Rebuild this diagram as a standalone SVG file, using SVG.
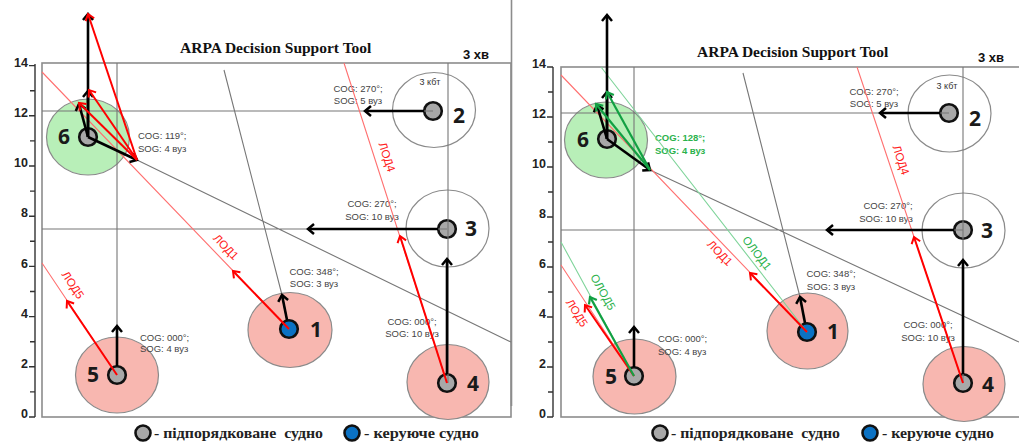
<svg xmlns="http://www.w3.org/2000/svg" width="1019" height="442" viewBox="0 0 1019 442">
  <defs>
    <style>
      .frame{fill:none;stroke:#8c8c8c;stroke-width:1.6}
      .axis{fill:none;stroke:#333;stroke-width:1.4}
      .grid{fill:none;stroke:#777;stroke-width:1.1}
      .lod{fill:none;stroke:#ff7070;stroke-width:1.1}
      .olod{fill:none;stroke:#7fd49a;stroke-width:1.1}
      .vb{fill:none;stroke:#000;stroke-width:2.6;marker-end:url(#ab)}
      .vr{fill:none;stroke:#ff0000;stroke-width:2;marker-end:url(#ar)}
      .vg{fill:none;stroke:#12a043;stroke-width:2.2;marker-end:url(#ag)}
      .zp{fill:#f8b7b0;stroke:#8a8a8a;stroke-width:1.2}
      .zg{fill:#b8efb8;stroke:#8a8a8a;stroke-width:1.2}
      .zn{fill:none;stroke:#8a8a8a;stroke-width:1.2}
      .ship{fill:#a8a8a8;stroke:#111;stroke-width:2.6}
      .own{fill:#0b72c4;stroke:#111;stroke-width:2.6}
      .num{font-family:"Open Sans","Liberation Sans",sans-serif;font-weight:bold;font-size:21px;fill:#1a1a1a}
      .cog{font-family:"Liberation Sans",Arial,sans-serif;font-size:9.5px;fill:#444}
      .cogg{font-family:"Liberation Sans",Arial,sans-serif;font-size:9.5px;font-weight:bold;fill:#2bb24c}
      .kbt{font-family:"Liberation Sans",Arial,sans-serif;font-size:9px;fill:#333}
      .lbl{font-family:"Liberation Sans",Arial,sans-serif;font-size:11.5px;fill:#ff2020}
      .lblg{font-family:"Liberation Sans",Arial,sans-serif;font-size:11.5px;fill:#2bb24c}
      .tick{font-family:"Liberation Sans",Arial,sans-serif;font-weight:bold;font-size:12.5px;fill:#222}
      .title{font-family:"Liberation Serif","Times New Roman",serif;font-weight:bold;font-size:15.5px;fill:#111}
      .min{font-family:"Liberation Sans",Arial,sans-serif;font-weight:bold;font-size:13px;fill:#111}
      .leg{font-family:"Liberation Serif","Times New Roman",serif;font-weight:bold;font-size:15.5px;fill:#222}
    </style>
    <marker id="ab" viewBox="-8 -7 10 14" refX="0" refY="0" markerWidth="10" markerHeight="14" markerUnits="userSpaceOnUse" orient="auto" overflow="visible">
      <path d="M-6,-5 L0,0 L-6,5" fill="none" stroke="#000" stroke-width="2.5"/>
    </marker>
    <marker id="ar" viewBox="-8 -7 10 14" refX="0" refY="0" markerWidth="10" markerHeight="14" markerUnits="userSpaceOnUse" orient="auto" overflow="visible">
      <path d="M-6,-4.5 L0,0 L-6,4.5" fill="none" stroke="#ff0000" stroke-width="2"/>
    </marker>
    <marker id="ag" viewBox="-8 -7 10 14" refX="0" refY="0" markerWidth="10" markerHeight="14" markerUnits="userSpaceOnUse" orient="auto" overflow="visible">
      <path d="M-6,-4.5 L0,0 L-6,4.5" fill="none" stroke="#12a043" stroke-width="2.2"/>
    </marker>
  </defs>
  <rect width="1019" height="442" fill="#fff"/>

  <!-- ===== Panel A: without reduction ===== -->
  <g id="panel-a-frame">
    <text class="title" x="180" y="53">ARPA Decision Support Tool</text>
    <text class="min" x="463" y="59">3 хв</text>
    <rect class="frame" x="42" y="63" width="469" height="354"/>
    <line class="frame" x1="511.5" y1="0" x2="511.5" y2="406"/>
    <path class="axis" d="M35,64V417 M29,417H35 M30,391.9H35 M29,366.8H35 M30,341.7H35 M29,316.6H35 M30,291.5H35 M29,266.4H35 M30,241.3H35 M29,216.2H35 M30,191.1H35 M29,166H35 M30,140.9H35 M29,115.8H35 M30,90.7H35 M29,65.6H35"/>
    <g class="tick" text-anchor="end">
      <text x="28" y="418">0</text><text x="28" y="368">2</text><text x="28" y="318">4</text>
      <text x="28" y="268">6</text><text x="28" y="217">8</text><text x="28" y="167">10</text>
      <text x="28" y="117">12</text><text x="28" y="67">14</text>
    </g>
  </g>

  <g id="a-ship6">
    <ellipse class="zg" cx="88" cy="137" rx="41.5" ry="38"/>
    <circle class="ship" cx="88" cy="137" r="8.8"/>
    <text class="num" x="64" y="144" text-anchor="middle">6</text>
    <text class="cog" x="138" y="139">COG: 119°;</text>
    <text class="cog" x="138" y="152">SOG: 4 вуз</text>
  </g>
  <g id="a-ship2">
    <ellipse class="zn" cx="434" cy="110" rx="41.5" ry="37.5"/>
    <circle class="ship" cx="433" cy="111" r="8.8"/>
    <text class="num" x="453" y="123">2</text>
    <text class="kbt" x="430" y="85" text-anchor="middle">3 кбт</text>
    <text class="cog" x="358" y="92" text-anchor="middle">COG: 270°;</text>
    <text class="cog" x="358" y="104" text-anchor="middle">SOG: 5 вуз</text>
  </g>
  <g id="a-ship3">
    <ellipse class="zn" cx="447.5" cy="228.5" rx="41.5" ry="38.5"/>
    <circle class="ship" cx="447" cy="229" r="8.8"/>
    <text class="num" x="465" y="236">3</text>
    <text class="cog" x="372" y="207" text-anchor="middle">COG: 270°;</text>
    <text class="cog" x="372" y="220" text-anchor="middle">SOG: 10 вуз</text>
  </g>
  <g id="a-ship4">
    <ellipse class="zp" cx="448" cy="382" rx="41" ry="37.5"/>
    <circle class="ship" cx="447" cy="383" r="8.8"/>
    <text class="num" x="467" y="391">4</text>
    <text class="cog" x="412" y="325" text-anchor="middle">COG: 000°;</text>
    <text class="cog" x="412" y="337" text-anchor="middle">SOG: 10 вуз</text>
  </g>
  <g id="a-ship1">
    <ellipse class="zp" cx="290" cy="330" rx="42" ry="37.5"/>
    <circle class="own" cx="289" cy="329" r="8.8"/>
    <text class="num" x="310" y="337">1</text>
    <text class="cog" x="314" y="275" text-anchor="middle">COG: 348°;</text>
    <text class="cog" x="314" y="287" text-anchor="middle">SOG: 3 вуз</text>
  </g>
  <g id="a-ship5">
    <ellipse class="zp" cx="117" cy="375" rx="41.5" ry="38"/>
    <circle class="ship" cx="117" cy="375" r="8.8"/>
    <text class="num" x="87" y="382">5</text>
    <text class="cog" x="140" y="341">COG: 000°;</text>
    <text class="cog" x="140" y="352">SOG: 4 вуз</text>
  </g>

  <g id="a-links">
    <path class="grid" d="M117,63V325 M42,111H433 M42,229H447 M448,63V383 M224,70L282,295 M137,160L511,342"/>
    <path class="lod" d="M42,72L289,329 M42,263L117,375 M344,63L447,383"/>
    <path class="vb" d="M88,137V14"/>
    <path class="vb" d="M88,137V91"/>
    <path class="vb" d="M88,137L79,104"/>
    <path class="vb" d="M88,137L137,160"/>
    <path class="vb" d="M424,111H365"/>
    <path class="vb" d="M438,229H308"/>
    <path class="vb" d="M447,374V259"/>
    <path class="vb" d="M287,320L282,295"/>
    <path class="vb" d="M117,366V326"/>
    <path class="vr" d="M289,329L233,271"/>
    <path class="vr" d="M117,375L67,301"/>
    <path class="vr" d="M447,383L400,236"/>
    <path class="vr" d="M137,160L88,14"/>
    <path class="vr" d="M137,160L89,90"/>
    <path class="vr" d="M137,160L79,103"/>
    <text class="lbl" transform="translate(226,247) rotate(46)" text-anchor="middle" y="4">ЛОД1</text>
    <text class="lbl" transform="translate(73,285) rotate(56)" text-anchor="middle" y="4">ЛОД5</text>
    <text class="lbl" transform="translate(387,157) rotate(72)" text-anchor="middle" y="4">ЛОД4</text>
  </g>

  <g id="a-legend">
    <circle class="ship" cx="143" cy="433" r="7.5"/>
    <text class="leg" x="154" y="438" textLength="169" lengthAdjust="spacingAndGlyphs" xml:space="preserve">- підпорядковане  судно</text>
    <circle class="own" cx="352" cy="433" r="7.5"/>
    <text class="leg" x="364" y="438" textLength="115" lengthAdjust="spacingAndGlyphs">- керуюче судно</text>
  </g>

  <!-- ===== Panel B: with reduction ===== -->
  <g id="panel-b-frame">
    <text class="title" x="697" y="57">ARPA Decision Support Tool</text>
    <text class="min" x="978" y="62">3 хв</text>
    <rect class="frame" x="561" y="67" width="470" height="350"/>
    <path class="axis" d="M553,67V417 M547,417H553 M548,392H553 M547,367H553 M548,342H553 M547,317H553 M548,292H553 M547,267H553 M548,242H553 M547,217H553 M548,192H553 M547,167H553 M548,142H553 M547,117H553 M548,92H553 M547,67H553"/>
    <g class="tick" text-anchor="end">
      <text x="546" y="418">0</text><text x="546" y="368">2</text><text x="546" y="318">4</text>
      <text x="546" y="268">6</text><text x="546" y="218">8</text><text x="546" y="168">10</text>
      <text x="546" y="118">12</text><text x="546" y="68">14</text>
    </g>
  </g>

  <g id="b-ship6">
    <ellipse class="zg" cx="606" cy="140" rx="41.5" ry="38"/>
    <circle class="ship" cx="607" cy="139" r="8.8"/>
    <text class="num" x="583" y="147" text-anchor="middle">6</text>
    <text class="cogg" x="655" y="141">COG: 128°;</text>
    <text class="cogg" x="655" y="154">SOG: 4 вуз</text>
  </g>
  <g id="b-ship2">
    <ellipse class="zn" cx="949.5" cy="113.5" rx="41.5" ry="38.5"/>
    <circle class="ship" cx="949" cy="113" r="8.8"/>
    <text class="num" x="969" y="126">2</text>
    <text class="kbt" x="947" y="89" text-anchor="middle">3 кбт</text>
    <text class="cog" x="874" y="95" text-anchor="middle">COG: 270°;</text>
    <text class="cog" x="874" y="107" text-anchor="middle">SOG: 5 вуз</text>
  </g>
  <g id="b-ship3">
    <ellipse class="zn" cx="963.5" cy="230.5" rx="41.5" ry="37.5"/>
    <circle class="ship" cx="963" cy="230" r="8.8"/>
    <text class="num" x="981" y="238">3</text>
    <text class="cog" x="888" y="209" text-anchor="middle">COG: 270°;</text>
    <text class="cog" x="886" y="222" text-anchor="middle">SOG: 10 вуз</text>
  </g>
  <g id="b-ship4">
    <ellipse class="zp" cx="964" cy="384" rx="41" ry="37.5"/>
    <circle class="ship" cx="963" cy="383" r="8.8"/>
    <text class="num" x="982" y="392">4</text>
    <text class="cog" x="928" y="328" text-anchor="middle">COG: 000°;</text>
    <text class="cog" x="928" y="341" text-anchor="middle">SOG: 10 вуз</text>
  </g>
  <g id="b-ship1">
    <ellipse class="zp" cx="807.5" cy="331" rx="40.5" ry="38"/>
    <circle class="own" cx="807" cy="332" r="8.8"/>
    <text class="num" x="827" y="339">1</text>
    <text class="cog" x="831" y="277" text-anchor="middle">COG: 348°;</text>
    <text class="cog" x="831" y="290" text-anchor="middle">SOG: 3 вуз</text>
  </g>
  <g id="b-ship5">
    <ellipse class="zp" cx="634.5" cy="376.5" rx="41.5" ry="37.5"/>
    <circle class="ship" cx="634" cy="376" r="8.8"/>
    <text class="num" x="605" y="384">5</text>
    <text class="cog" x="658" y="342">COG: 000°;</text>
    <text class="cog" x="658" y="355">SOG: 4 вуз</text>
  </g>

  <g id="b-links">
    <path class="grid" d="M634,67V327 M561,113H949 M561,230H963 M963,67V383 M743,73L800,297 M650,170L1019,342"/>
    <path class="lod" d="M561,75L807,332 M561,265L634,376 M857,67L963,383"/>
    <path class="olod" d="M601,67L807,332 M561,242L634,376"/>
    <path class="vb" d="M607,139V15"/>
    <path class="vb" d="M607,139V92"/>
    <path class="vb" d="M607,139L597,105"/>
    <path class="vb" d="M607,139L650,170"/>
    <path class="vb" d="M940,113H880"/>
    <path class="vb" d="M954,230H827"/>
    <path class="vb" d="M963,374V260"/>
    <path class="vb" d="M805,323L800,297"/>
    <path class="vb" d="M634,367V327"/>
    <path class="vr" d="M807,332L750,273"/>
    <path class="vr" d="M634,376L585,305"/>
    <path class="vr" d="M963,383L914,237"/>
    <path class="vg" d="M634,376L590,297"/>
    <path class="vg" d="M650,170L607,92"/>
    <path class="vg" d="M650,170L596,104"/>
    <text class="lbl" transform="translate(720,253) rotate(46)" text-anchor="middle" y="4">ЛОД1</text>
    <text class="lblg" transform="translate(757,253) rotate(52)" text-anchor="middle" y="4">ОЛОД1</text>
    <text class="lbl" transform="translate(577,313) rotate(58)" text-anchor="middle" y="4">ЛОД5</text>
    <text class="lblg" transform="translate(603,292) rotate(61)" text-anchor="middle" y="4">ОЛОД5</text>
    <text class="lbl" transform="translate(901,160) rotate(72)" text-anchor="middle" y="4">ЛОД4</text>
  </g>

  <g id="b-legend">
    <circle class="ship" cx="660" cy="433" r="7.5"/>
    <text class="leg" x="671" y="438" textLength="169" lengthAdjust="spacingAndGlyphs" xml:space="preserve">- підпорядковане  судно</text>
    <circle class="own" cx="870" cy="433" r="7.5"/>
    <text class="leg" x="882" y="438" textLength="112" lengthAdjust="spacingAndGlyphs">- керуюче судно</text>
  </g>
</svg>
